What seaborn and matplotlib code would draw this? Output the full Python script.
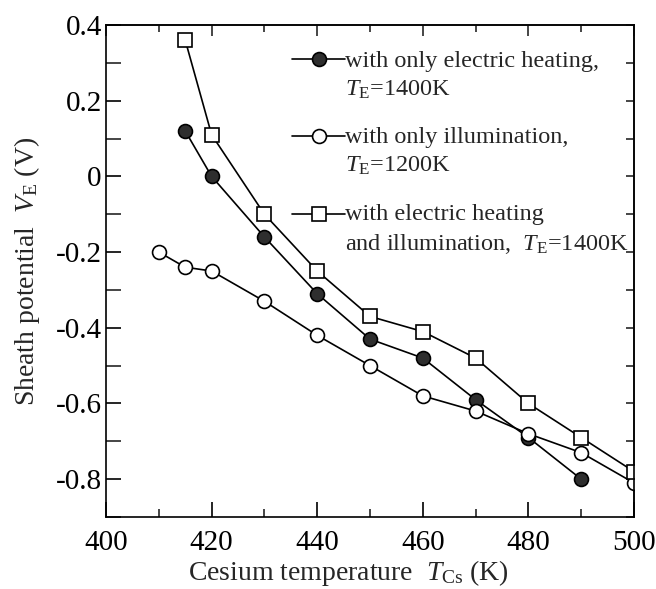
import numpy as np
import pandas as pd
import matplotlib
matplotlib.use("Agg")
import matplotlib.pyplot as plt
import seaborn as sns
from matplotlib.legend_handler import HandlerLine2D
from matplotlib.ticker import MultipleLocator, FixedLocator, FixedFormatter

# Cesium temperature (K) and sheath potential (V) for each emitter condition
t_heating = [415, 420, 430, 440, 450, 460, 470, 480, 490]
v_heating = [0.12, 0.00, -0.16, -0.31, -0.43, -0.48, -0.59, -0.69, -0.80]

t_illum = [410, 415, 420, 430, 440, 450, 460, 470, 480, 490, 500]
v_illum = [-0.20, -0.24, -0.25, -0.33, -0.42, -0.50, -0.58, -0.62, -0.68, -0.73, -0.81]

t_both = [415, 420, 430, 440, 450, 460, 470, 480, 490, 500]
v_both = [0.36, 0.11, -0.10, -0.25, -0.37, -0.41, -0.48, -0.60, -0.69, -0.78]

labels = [
    "with only electric heating,\n$T_{\\mathrm{E}}$=1400K",
    "with only illumination,\n$T_{\\mathrm{E}}$=1200K",
    "with electric heating\nand illumination,  $T_{\\mathrm{E}}$=1400K",
]

x_ticks = [400, 420, 440, 460, 480, 500]
y_ticks = [0.4, 0.2, 0.0, -0.2, -0.4, -0.6, -0.8]
y_ticklabels = ["0.4", "0.2", "0", "-0.2", "-0.4", "-0.6", "-0.8"]

sns.set_theme(style="ticks")
plt.rcParams["font.family"] = ["Liberation Serif", "DejaVu Serif"]
plt.rcParams["mathtext.fontset"] = "custom"
plt.rcParams["mathtext.rm"] = "Liberation Serif"
plt.rcParams["mathtext.it"] = "Liberation Serif:italic"
plt.rcParams["axes.unicode_minus"] = False

fig = plt.figure(figsize=(6.56, 5.89), dpi=100)
ax = fig.add_axes([0.1616, 0.1222, 0.8049, 0.8354])

line_kw = dict(color="black", linewidth=1.2, markersize=10,
               markeredgewidth=1.2, markeredgecolor="black")

sns.lineplot(x=t_heating, y=v_heating, marker="o", markerfacecolor="#2e2e2e",
             label=labels[0], ax=ax, **line_kw)
sns.lineplot(x=t_illum, y=v_illum, marker="o", markerfacecolor="white",
             label=labels[1], ax=ax, **line_kw)
sns.lineplot(x=t_both, y=v_both, marker="s", markerfacecolor="white",
             label=labels[2], ax=ax, **line_kw)

ax.set_xlim(400, 500)
ax.set_ylim(-0.9, 0.4)

ax.xaxis.set_major_locator(FixedLocator(x_ticks))
ax.xaxis.set_minor_locator(MultipleLocator(10))
ax.yaxis.set_major_locator(FixedLocator(y_ticks))
ax.yaxis.set_major_formatter(FixedFormatter(y_ticklabels))
ax.yaxis.set_minor_locator(MultipleLocator(0.1))

ax.tick_params(axis="both", which="major", direction="in", length=11, width=1.2,
               labelsize=21, colors="black")
ax.tick_params(axis="x", which="minor", direction="in", length=6, width=1.2)
ax.tick_params(axis="y", which="minor", direction="in", length=11, width=1.2)
ax.tick_params(axis="x", pad=9)
ax.tick_params(axis="y", pad=3)

# short inward ticks along the top and right frame
top = ax.secondary_xaxis("top")
top.xaxis.set_major_locator(FixedLocator(x_ticks))
top.xaxis.set_minor_locator(MultipleLocator(10))
top.tick_params(which="major", direction="in", length=8, width=1.2, labeltop=False)
top.tick_params(which="minor", direction="in", length=5, width=1.2)
right = ax.secondary_yaxis("right")
right.yaxis.set_major_locator(MultipleLocator(0.1))
right.tick_params(which="major", direction="in", length=6, width=1.2, labelright=False)
for a in (top, right):
    for s in a.spines.values():
        s.set_linewidth(1.2)

for s in ax.spines.values():
    s.set_visible(True)
    s.set_linewidth(1.2)
    s.set_color("black")

ax.set_xlabel("Cesium temperature  $T_{\\mathrm{Cs}}$ (K)", fontsize=20, labelpad=2)
ax.xaxis.label.set_x(0.46)
ax.set_ylabel("Sheath potential  $V_{\\mathrm{E}}$ (V)", fontsize=20, labelpad=10)


class FirstLineHandler(HandlerLine2D):
    """Places the legend symbol level with the first line of a two-line label."""

    def __init__(self, shift, **kw):
        super().__init__(**kw)
        self.shift = shift

    def create_artists(self, legend, orig_handle, xdescent, ydescent, width,
                       height, fontsize, trans):
        arts = super().create_artists(legend, orig_handle, xdescent, ydescent,
                                      width, height, fontsize, trans)
        for a in arts:
            a.set_ydata(np.asarray(a.get_ydata(), dtype=float) + self.shift * fontsize)
        return arts


handles, lbls = ax.get_legend_handles_labels()
leg = ax.legend(handles, lbls, loc="upper left", bbox_to_anchor=(0.352, 0.948),
                frameon=False, fontsize=17.5, handlelength=2.2, handletextpad=0.0,
                labelspacing=1.1, borderpad=0, borderaxespad=0,
                handler_map={h: FirstLineHandler(0.66) for h in handles})
for t in leg.get_texts():
    t.set_linespacing(1.4)

fig.savefig("out.png", dpi=100)
